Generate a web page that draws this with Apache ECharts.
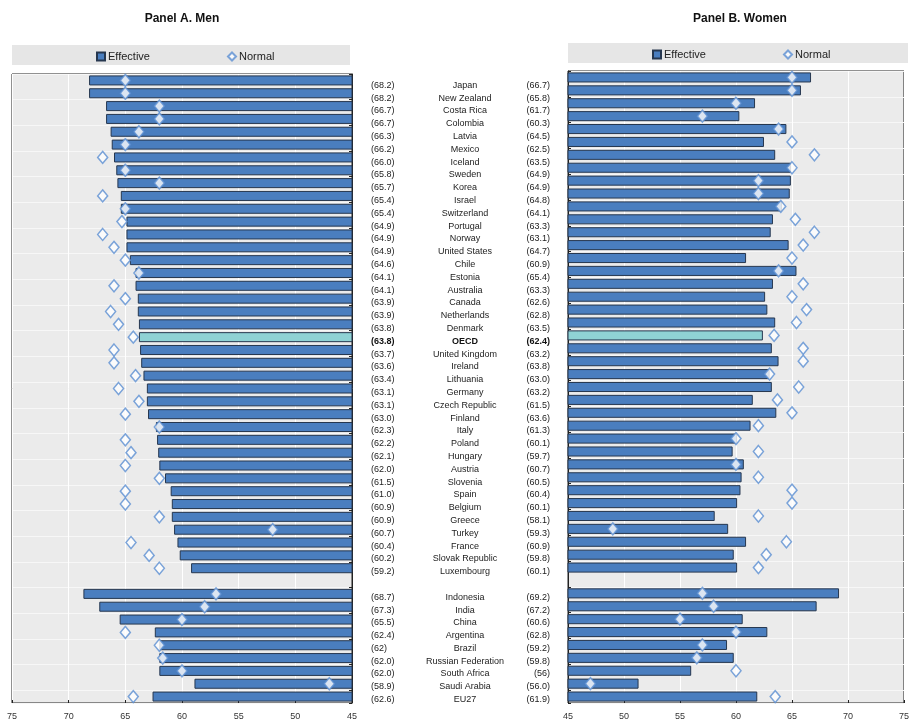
<!DOCTYPE html>
<html>
<head>
<meta charset="utf-8">
<script src="https://cdn.jsdelivr.net/npm/echarts@6/dist/echarts.min.js"></script>
<style>
  html, body { margin: 0; padding: 0; background: #fff; }
  #chart { width: 912px; height: 721px; }
</style>
</head>
<body>
<div id="chart"></div>
<script>
const countries = ['Japan', 'New Zealand', 'Costa Rica', 'Colombia', 'Latvia', 'Mexico', 'Iceland', 'Sweden',
  'Korea', 'Israel', 'Switzerland', 'Portugal', 'Norway', 'United States', 'Chile', 'Estonia', 'Australia',
  'Canada', 'Netherlands', 'Denmark', 'OECD', 'United Kingdom', 'Ireland', 'Lithuania', 'Germany',
  'Czech Republic', 'Finland', 'Italy', 'Poland', 'Hungary', 'Austria', 'Slovenia', 'Spain', 'Belgium',
  'Greece', 'Turkey', 'France', 'Slovak Republic', 'Luxembourg', '',
  'Indonesia', 'India', 'China', 'Argentina', 'Brazil', 'Russian Federation', 'South Africa', 'Saudi Arabia', 'EU27'];

// printed values next to the names
const menLabels = ['68.2', '68.2', '66.7', '66.7', '66.3', '66.2', '66.0', '65.8', '65.7', '65.4', '65.4', '64.9',
  '64.9', '64.9', '64.6', '64.1', '64.1', '63.9', '63.9', '63.8', '63.8', '63.7', '63.6', '63.4', '63.1', '63.1',
  '63.0', '62.3', '62.2', '62.1', '62.0', '61.5', '61.0', '60.9', '60.9', '60.7', '60.4', '60.2', '59.2', '',
  '68.7', '67.3', '65.5', '62.4', '62', '62.0', '62.0', '58.9', '62.6'];
const womenLabels = ['66.7', '65.8', '61.7', '60.3', '64.5', '62.5', '63.5', '64.9', '64.9', '64.8', '64.1', '63.3',
  '63.1', '64.7', '60.9', '65.4', '63.3', '62.6', '62.8', '63.5', '62.4', '63.2', '63.8', '63.0', '63.2', '61.5',
  '63.6', '61.3', '60.1', '59.7', '60.7', '60.5', '60.4', '60.1', '58.1', '59.3', '60.9', '59.8', '60.1', '',
  '69.2', '67.2', '60.6', '62.8', '59.2', '59.8', '56', '56.0', '61.9'];

// bar lengths (effective age)
const menEffective = [68.2, 68.2, 66.7, 66.7, 66.3, 66.2, 66.0, 65.8, 65.7, 65.4, 65.4, 64.9, 64.9, 64.9, 64.6,
  64.1, 64.1, 63.9, 63.9, 63.8, 63.8, 63.7, 63.6, 63.4, 63.1, 63.1, 63.0, 62.3, 62.2, 62.1, 62.0, 61.5, 61.0,
  60.9, 60.9, 60.7, 60.4, 60.2, 59.2, null, 68.7, 67.3, 65.5, 62.4, 62.0, 62.0, 62.0, 58.9, 62.6];
const womenEffective = [66.7, 65.8, 61.7, 60.3, 64.5, 62.5, 63.5, 64.9, 64.9, 64.8, 64.1, 63.3, 63.1, 64.7, 60.9,
  65.4, 63.3, 62.6, 62.8, 63.5, 62.4, 63.2, 63.8, 63.0, 63.2, 61.5, 63.6, 61.3, 60.1, 59.7, 60.7, 60.5, 60.4,
  60.1, 58.1, 59.3, 60.9, 59.8, 60.1, null, 69.2, 67.2, 60.6, 62.8, 59.2, 59.8, 56.0, 51.3, 61.9];

// diamonds (normal age)
const menNormal = [65, 65, 62, 62, 63.8, 65, 67, 65, 62, 67, 65, 65.3, 67, 66, 65, 63.8, 66, 65, 66.3, 65.6,
  64.3, 66, 66, 64.1, 65.6, 63.8, 65, 62, 65, 64.5, 65, 62, 65, 65, 62, 52, 64.5, 62.9, 62, null,
  57, 58, 60, 65, 62, 61.7, 60, 47, 64.3];
const womenNormal = [65, 65, 60, 57, 63.8, 65, 67, 65, 62, 62, 64, 65.3, 67, 66, 65, 63.8, 66, 65, 66.3, 65.4,
  63.4, 66, 66, 63, 65.6, 63.7, 65, 62, 60, 62, 60, 62, 65, 65, 62, 49, 64.5, 62.7, 62, null,
  57, 58, 55, 60, 57, 56.5, 60, 47, 63.5];

const ticks = { min: 45, max: 75, interval: 5 };
const oecdIndex = countries.indexOf('OECD');

const font = "'Liberation Sans Narrow', 'Arial Narrow', 'Liberation Sans', Arial, sans-serif";
const barBlue = '#4a7ebf';
const barEdge = '#26374f';
const oecdColor = '#8fd2d4';
const diamondEdge = '#5b8fd2';

const barData = (arr) => arr.map((v, i) => {
  if (v == null) return '-';
  if (i === oecdIndex) return { value: v, itemStyle: { color: oecdColor } };
  return v;
});
const pointData = (arr) => arr.map((v, i) => (v == null ? ['-', i] : [v, i]));

const chart = echarts.init(document.getElementById('chart'), null, { renderer: 'canvas' });

const valueAxis = (grid, inverse) => ({
  gridIndex: grid,
  type: 'value',
  min: ticks.min,
  max: ticks.max,
  interval: ticks.interval,
  inverse: inverse,
  axisLine: { show: false },
  axisTick: { show: true, inside: true, length: 3, lineStyle: { color: '#222' } },
  axisLabel: { fontSize: 9, color: '#333', margin: 9, fontFamily: font },
  splitLine: { show: true, lineStyle: { color: '#ffffff', width: 1 } }
});

const catAxis = (grid, pos) => ({
  gridIndex: grid,
  type: 'category',
  data: countries,
  inverse: true,
  position: pos,
  axisLine: { show: true, lineStyle: { color: '#222', width: 1 } },
  axisTick: { show: true, inside: true, length: 3, lineStyle: { color: '#222' } },
  axisLabel: { show: false },
  splitLine: { show: true, lineStyle: { color: '#f7f7f7', width: 1 } }
});

const labelRich = {
  l: { width: 40, align: 'left', fontSize: 9, color: '#222', fontFamily: font },
  n: { width: 108, align: 'center', fontSize: 9, color: '#222', fontFamily: font },
  r: { width: 31, align: 'right', fontSize: 9, color: '#222', fontFamily: font },
  lB: { width: 40, align: 'left', fontSize: 9, color: '#111', fontWeight: 'bold', fontFamily: font },
  nB: { width: 108, align: 'center', fontSize: 9, color: '#111', fontWeight: 'bold', fontFamily: font },
  rB: { width: 31, align: 'right', fontSize: 9, color: '#111', fontWeight: 'bold', fontFamily: font }
};

const legendBase = {
  itemWidth: 8,
  itemHeight: 8,
  itemGap: 0,
  padding: 0,
  textStyle: { fontSize: 11, color: '#222', fontFamily: font, padding: [0, 0, 0, -2] }
};

const option = {
  animation: false,
  textStyle: { fontFamily: font },
  title: [
    { text: 'Panel A. Men', left: 182, top: 13, textAlign: 'center', padding: 0,
      textStyle: { fontSize: 12, fontWeight: 'bold', color: '#111', fontFamily: "'Liberation Sans', Arial, sans-serif" } },
    { text: 'Panel B. Women', left: 740, top: 13, textAlign: 'center', padding: 0,
      textStyle: { fontSize: 12, fontWeight: 'bold', color: '#111', fontFamily: "'Liberation Sans', Arial, sans-serif" } }
  ],
  graphic: [
    { type: 'rect', z: 0, shape: { x: 12, y: 45, width: 338, height: 20 }, style: { fill: '#e6e6e6' } },
    { type: 'rect', z: 0, shape: { x: 568, y: 43, width: 340, height: 20 }, style: { fill: '#e6e6e6' } }
  ],
  legend: [
    Object.assign({}, legendBase, { data: [{ name: 'Effective', icon: 'rect' }], left: 96, top: 51 }),
    Object.assign({}, legendBase, { data: [{ name: 'Normal', icon: 'diamond' }], left: 227, top: 51 }),
    Object.assign({}, legendBase, { data: [{ name: 'Effective', icon: 'rect' }], left: 652, top: 49 }),
    Object.assign({}, legendBase, { data: [{ name: 'Normal', icon: 'diamond' }], left: 783, top: 49 })
  ],
  grid: [
    { left: 12, top: 74, width: 340, height: 633, show: true, backgroundColor: '#ebebeb',
      borderColor: '#222', borderWidth: 1, containLabel: false },
    { left: 568, top: 71, width: 342, height: 633, show: true, backgroundColor: '#ebebeb',
      borderColor: '#222', borderWidth: 1, containLabel: false },
    { left: 550, top: 79, width: 1, height: 627, show: false }
  ],
  xAxis: [
    valueAxis(0, true),
    valueAxis(1, false),
    { gridIndex: 2, type: 'value', show: false }
  ],
  yAxis: [
    catAxis(0, 'right'),
    catAxis(1, 'left'),
    {
      gridIndex: 2,
      type: 'category',
      data: countries,
      inverse: true,
      position: 'left',
      axisLine: { show: false },
      axisTick: { show: false },
      splitLine: { show: false },
      axisLabel: {
        interval: 0,
        margin: 0,
        rich: labelRich,
        formatter: function (name, i) {
          if (!name) return '';
          const s = i === oecdIndex ? 'B' : '';
          return '{l' + s + '|(' + menLabels[i] + ')}{n' + s + '|' + name + '}{r' + s + '|(' + womenLabels[i] + ')}';
        }
      }
    }
  ],
  series: [
    {
      name: 'Effective', type: 'bar', xAxisIndex: 0, yAxisIndex: 0,
      data: barData(menEffective), barWidth: '78%',
      itemStyle: { color: barBlue, borderColor: barEdge, borderWidth: 1 }
    },
    {
      name: 'Normal', type: 'scatter', xAxisIndex: 0, yAxisIndex: 0,
      data: pointData(menNormal), symbol: 'diamond', symbolSize: [10, 12], z: 5,
      itemStyle: { color: '#ffffff', borderColor: diamondEdge, borderWidth: 1.5 }
    },
    {
      name: 'Effective', type: 'bar', xAxisIndex: 1, yAxisIndex: 1,
      data: barData(womenEffective), barWidth: '78%',
      itemStyle: { color: barBlue, borderColor: barEdge, borderWidth: 1 }
    },
    {
      name: 'Normal', type: 'scatter', xAxisIndex: 1, yAxisIndex: 1,
      data: pointData(womenNormal), symbol: 'diamond', symbolSize: [10, 12], z: 5,
      itemStyle: { color: '#ffffff', borderColor: diamondEdge, borderWidth: 1.5 }
    }
  ]
};

chart.setOption(option);
</script>
</body>
</html>
